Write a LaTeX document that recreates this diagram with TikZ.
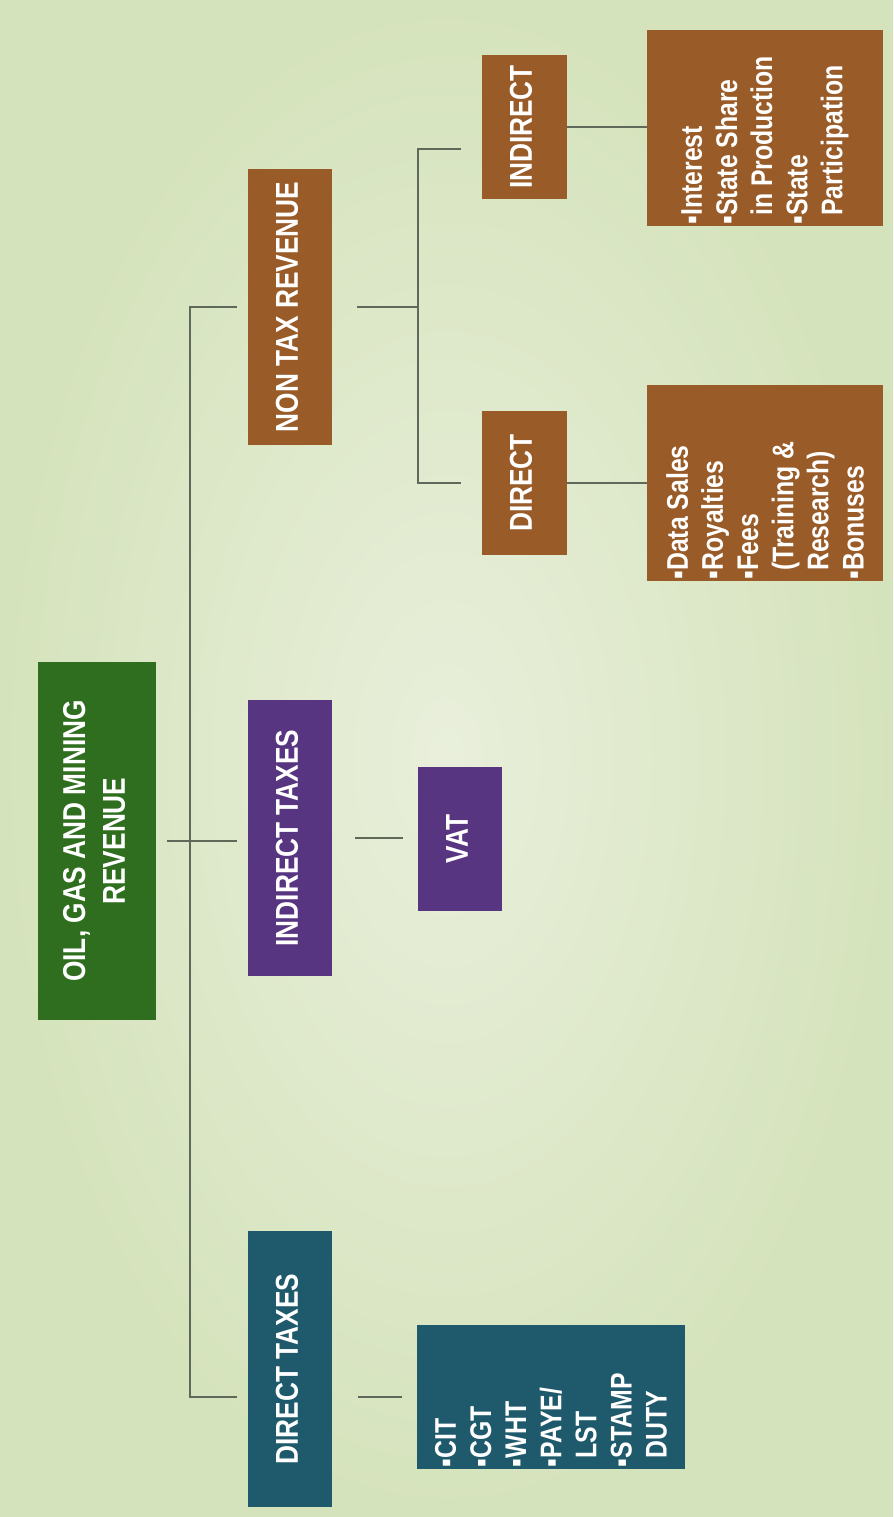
\documentclass[tikz,border=0pt]{standalone}
\usepackage{fontspec}
\setmainfont{Liberation Sans}[FakeStretch=0.83]
\usepackage{graphicx}
\usepackage{xcolor}
\definecolor{revgreen}{RGB}{47,110,31}
\definecolor{taxteal}{RGB}{31,89,108}
\definecolor{taxpurple}{RGB}{88,53,128}
\definecolor{nontaxbrown}{RGB}{153,91,40}
\definecolor{bgouter}{RGB}{213,227,188}
\definecolor{bginner}{RGB}{233,239,219}
\definecolor{linkgray}{RGB}{95,105,90}
\usepackage{tikz}
\usetikzlibrary{positioning}

\newcommand{\vhead}[1]{\rotatebox{90}{\begin{tabular}{@{}c@{}}#1\end{tabular}}}
\newcommand{\vlist}[2]{\rotatebox{90}{\parbox{#1}{\fontsize{17}{20}\selectfont\raggedright #2}}}

\begin{document}
\begin{tikzpicture}[x=0.02cm, y=-0.02cm,
  box/.style={rectangle, inner sep=0pt, text=white, font=\bfseries\fontsize{18}{22.7}\selectfont},
  head/.style={box, minimum width=1.7cm, minimum height=5.54cm},
  twig/.style={box, minimum width=1.7cm, minimum height=2.9cm},
  leaf/.style={box, minimum width=4.72cm, minimum height=3.94cm},
  link/.style={draw=linkgray, line width=0.9pt}
]

% Background
\useasboundingbox (0,0) rectangle (893,1517);
\shade[inner color=bginner, outer color=bgouter] (0,0) rectangle (893,1517);

% Root
\node[box, fill=revgreen, minimum width=2.36cm, minimum height=7.16cm] (root) at (97,841) {\vhead{OIL, GAS AND MINING\\REVENUE}};

% Tax heads
\node[head, fill=taxteal] (dtax) at (290,1369) {\vhead{DIRECT TAXES}};
\node[head, fill=taxpurple] (itax) at (290,838) {\vhead{INDIRECT TAXES}};
\node[head, fill=nontaxbrown] (ntax) at (290,307) {\vhead{NON TAX REVENUE}};

% Second level
\node[box, fill=taxteal, minimum width=5.38cm, minimum height=2.88cm] (dlist) at (551,1397) {\vlist{2.8cm}{▪CIT\\▪CGT\\▪WHT\\▪PAYE/\\\phantom{▪}LST\\▪STAMP\\\phantom{▪}DUTY}};
\node[twig, fill=taxpurple] (vat) at (460,839) {\vhead{VAT}};
\node[twig, fill=nontaxbrown] (ndir) at (524,483) {\vhead{DIRECT}};
\node[twig, fill=nontaxbrown] (nind) at (524,127) {\vhead{INDIRECT}};

% Leaves
\node[leaf, fill=nontaxbrown] (ndlist) at (765,483) {\vlist{3.86cm}{▪Data Sales\\▪Royalties\\▪Fees\\\phantom{▪}(Training \&\\\phantom{▪}Research)\\▪Bonuses}};
\node[leaf, fill=nontaxbrown] (nilist) at (765,128) {\vlist{3.86cm}{▪Interest\\▪State Share\\\phantom{▪}in Production\\▪State\\\phantom{▪}Participation}};

% Links
\coordinate (trunk) at (190,847);
\coordinate (fork) at (418,307);
\draw[link, shorten <=0.22cm, shorten >=0.2cm] (root.east) -- (root.east -| itax.west);
\draw[link, shorten <=0.2cm, shorten >=0.2cm] (ntax.west) -| (trunk) |- (dtax.west |- dlist.west);
\draw[link, shorten <=0.5cm, shorten >=0.28cm] (dtax.east |- dlist.west) -- (dlist.west);
\draw[link, shorten <=0.44cm, shorten >=0.28cm] (itax.east) -- (itax.east -| vat.west);
\draw[link, shorten <=0.48cm] (ntax.east) -- (ntax.east -| fork);
\draw[link, shorten <=0.4cm, shorten >=0.4cm] ([yshift=-0.44cm]nind.west) -| (fork) |- (ndir.west);
\draw[link] (nind.east) -- (nind.east -| nilist.west);
\draw[link] (ndir.east) -- (ndir.east -| ndlist.west);

\end{tikzpicture}
\end{document}
